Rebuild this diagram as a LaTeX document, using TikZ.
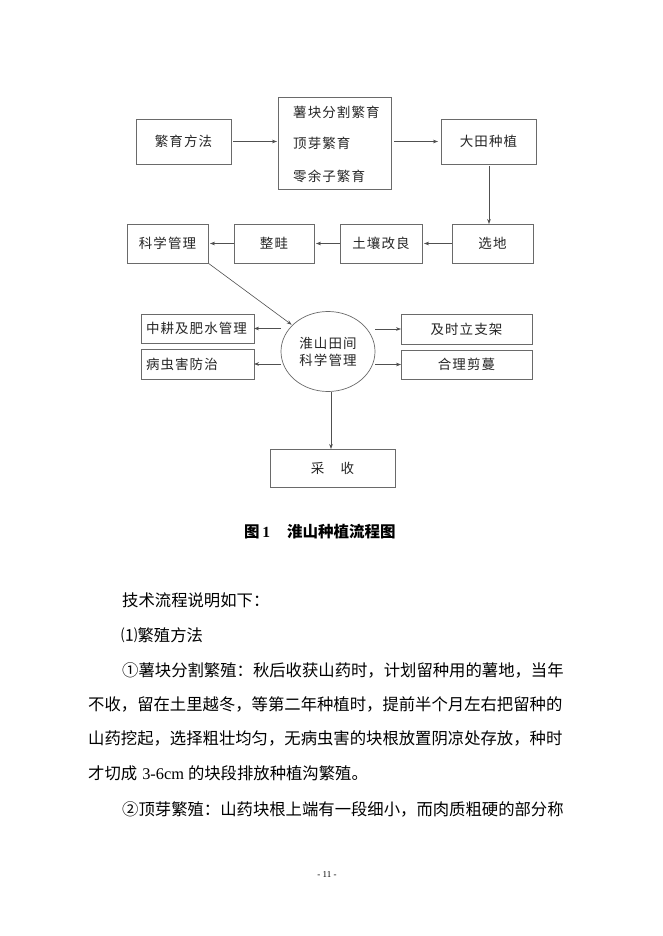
\documentclass[tikz,border=0pt]{standalone}
\usepackage{fontspec}
\usetikzlibrary{arrows.meta,shapes.geometric,calc}
\newfontfamily\cjk{Noto Sans CJK SC}
\newfontfamily\cjkbox[LetterSpace=8]{Noto Sans CJK SC}
\newfontfamily\lserif{Liberation Serif}
\definecolor{linegray}{HTML}{505050}
\definecolor{boxgray}{HTML}{6A6A6A}
\begin{document}
\begin{tikzpicture}[x=1pt,y=-1pt,
  box/.style={draw=boxgray, line width=0.7pt, inner sep=0pt, outer sep=0pt,
    font=\cjkbox\fontsize{13.5pt}{16pt}\selectfont, text=black!85},
  boxtxt/.style={font=\cjkbox\fontsize{13.5pt}{16pt}\selectfont, inner sep=0pt, text=black!85},
  arr/.style={draw=linegray, line width=0.6pt, -{Stealth[length=5pt,width=3.6pt]}},
  body/.style={font=\cjk\fontsize{16.35pt}{18pt}\selectfont, inner sep=0pt, anchor=west},
]
\useasboundingbox[fill=white] (0,0) rectangle (662,936);

% top row
\node[box, minimum width=95pt, minimum height=45pt] (fy) at (183.5,141.5) {繁育方法};
\node[box, minimum width=113pt, minimum height=92pt] (mid) at (334.5,143) {};
\node[boxtxt, anchor=west] (m1) at (293,112) {薯块分割繁育};
\node[boxtxt, anchor=west] (m2) at (293,143) {顶芽繁育};
\node[boxtxt, anchor=west] (m3) at (293,176) {零余子繁育};
\node[box, minimum width=95pt, minimum height=45pt] (dt) at (488.5,141.5) {大田种植};

% second row
\node[box, minimum width=81pt, minimum height=39pt] (xd) at (492.5,243.5) {选地};
\node[box, minimum width=82pt, minimum height=39pt] (tr) at (381,243.5) {土壤改良};
\node[box, minimum width=80pt, minimum height=39pt] (zq) at (274,243.5) {整畦};
\node[box, minimum width=81pt, minimum height=39pt] (kx) at (167.5,243.5) {科学管理};

% circle
\node[box, ellipse, minimum width=94pt, minimum height=80pt, align=center,
  font=\cjkbox\fontsize{13.5pt}{17pt}\selectfont] (ci) at (328,351.5) {淮山田间\\科学管理};

% side boxes
\node[box, minimum height=29pt, text width=103pt, inner xsep=5pt, align=left] (zg) at (197.5,328.5) {中耕及肥水管理};
\node[box, minimum height=30pt, text width=103pt, inner xsep=5pt, align=left] (bc) at (197.5,364) {病虫害防治};
\node[box, minimum width=131pt, minimum height=30pt] (js) at (466.5,329) {及时立支架};
\node[box, minimum width=131pt, minimum height=29pt] (hl) at (466.5,364.5) {合理剪蔓};

% harvest
\node[box, minimum width=125pt, minimum height=38pt] (cs) at (332.5,468) {采\hspace{1.2em}收};

% helper coordinates for vertical connectors
\coordinate (vx1) at (489,0);
\coordinate (vx2) at (331,0);

% connectors
\draw[arr, shorten <=2pt, shorten >=1pt] (fy.east) -- (fy.east -| mid.west);
\draw[arr, shorten <=3pt, shorten >=3pt] (mid.east |- dt.west) -- (dt.west);
\draw[arr, shorten <=2pt] (vx1 |- dt.south) -- (vx1 |- xd.north);
\draw[arr, shorten >=2pt] (xd.west) -- (tr.east);
\draw[arr, shorten >=2pt] (tr.west) -- (zq.east);
\draw[arr, shorten >=2pt] (zq.west) -- (kx.east);
\draw[arr, shorten <=1pt, shorten >=1pt] (kx.south east) -- (ci);
\draw[arr] (ci.west |- zg.east) -- (zg.east);
\draw[arr] (ci.west |- bc.east) -- (bc.east);
\draw[arr] (ci.east |- js.west) -- (js.west);
\draw[arr] (ci.east |- hl.west) -- (hl.west);
\draw[arr] (vx2 |- ci.south) -- (vx2 |- cs.north);

% caption
\node[inner sep=0pt, anchor=west, font=\cjk\bfseries\fontsize{15.5pt}{18pt}\selectfont] (cap1) at (244,532) {图{\lserif\bfseries\,1}};
\node[inner sep=0pt, anchor=west, font=\cjk\bfseries\fontsize{15.5pt}{18pt}\selectfont] (cap2) at (287,532) {淮山种植流程图};

% body text
\node[body] (t1) at (122,600) {技术流程说明如下：};
\node[body] (t2) at (121,635) {⑴繁殖方法};
\node[body] (t3) at (122,670) {①薯块分割繁殖：秋后收获山药时，计划留种用的薯地，当年};
\node[body] (t4) at (88,704) {不收，留在土里越冬，等第二年种植时，提前半个月左右把留种的};
\node[body] (t5) at (88,738) {山药挖起，选择粗壮均匀，无病虫害的块根放置阴凉处存放，种时};
\node[body] (t6) at (88,773) {才切成\hspace{5pt}{\lserif 3-6cm}\hspace{4pt}的块段排放种植沟繁殖。};
\node[body] (t7) at (122,809) {②顶芽繁殖：山药块根上端有一段细小，而肉质粗硬的部分称};

% page number
\node[inner sep=0pt, font=\lserif\fontsize{9pt}{11pt}\selectfont] (pg) at (327,875) {- 11 -};
\end{tikzpicture}
\end{document}
